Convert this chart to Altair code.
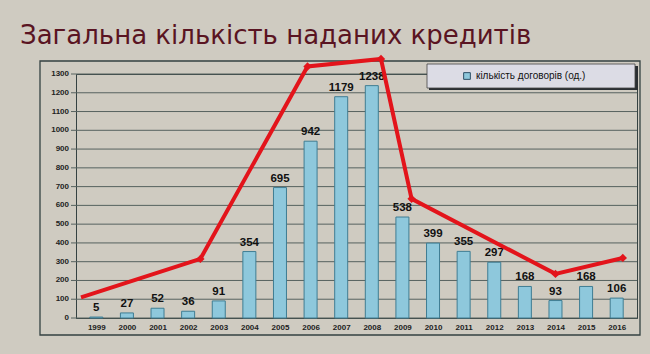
import altair as alt
import pandas as pd

years = list(range(1999, 2017))
contracts = [5, 27, 52, 36, 91, 354, 695, 942, 1179, 1238, 538, 399, 355, 297, 168, 93, 168, 106]
line_x = [1998.5, 2002.4, 2005.9, 2008.3, 2009.3, 2014.0, 2016.2]
line_y = [110, 315, 1340, 1380, 635, 235, 320]
y_ticks = [0, 100, 200, 300, 400, 500, 600, 700, 800, 900, 1000, 1100, 1200, 1300]
title_text = "Загальна кількість наданих кредитів"
legend_label = "кількість договорів (од.)"

BG = "#cfcbc1"
DARK = "#354242"
BAR_FILL = "#8ec8dc"
BAR_STROKE = "#3f7d93"
RED = "#e3141b"

bars_df = pd.DataFrame({"year": years, "value": contracts, "series": legend_label})
line_df = pd.DataFrame({"year": line_x, "value": line_y})
ticks_df = pd.DataFrame({"value": y_ticks})
one = pd.DataFrame({"k": [0]})

xscale = alt.Scale(domain=[1998.5, 2016.5], nice=False, zero=False)
yscale = alt.Scale(domain=[0, 1300], nice=False, zero=True)
x_axis = alt.Axis(values=years, format="d", title=None, grid=False, ticks=False,
                  labelPadding=5, labelFlush=False, labelOverlap=False, tickCount=18)
y_axis = alt.Axis(title=None, grid=False, ticks=False, labels=False, domain=True)
X = alt.X("year:Q", scale=xscale, axis=x_axis)
Y = alt.Y("value:Q", scale=yscale, axis=y_axis)

frame = alt.Chart(one).mark_rect(fill=None, stroke=DARK, strokeWidth=1.3).encode(
    x=alt.value(-36), x2=alt.value(564), y=alt.value(-13), y2=alt.value(261)
)

# horizontal gridlines (extending left as tick marks) and y tick labels from y_ticks
grid = alt.Chart(ticks_df).mark_rule(color="#56625f", strokeWidth=1).encode(
    y=Y, x=alt.value(-5), x2=alt.value(561)
)
ylabels = alt.Chart(ticks_df).mark_text(align="right", baseline="middle", dx=0,
                                        fontSize=8, font="Liberation Sans",
                                        fontWeight="bold", color="#222").encode(
    y=Y, x=alt.value(-7), text=alt.Text("value:Q", format="d")
)

legend_shadow = alt.Chart(one).mark_rect(fill="#2a2f33").encode(
    x=alt.value(353), x2=alt.value(562), y=alt.value(-8), y2=alt.value(16)
)
legend_box = alt.Chart(one).mark_rect(fill="#dcdce5", stroke="#444", strokeWidth=0.8).encode(
    x=alt.value(351), x2=alt.value(559), y=alt.value(-10), y2=alt.value(14)
)

bars = alt.Chart(bars_df).mark_bar(size=13, stroke=BAR_STROKE, strokeWidth=1).encode(
    x=X, y=Y,
    color=alt.Color("series:N", scale=alt.Scale(domain=[legend_label], range=[BAR_FILL]),
                    legend=alt.Legend(title=None, orient="none", legendX=386, legendY=-3,
                                      symbolType="square", symbolSize=45,
                                      symbolStrokeColor="#2d4f66", symbolStrokeWidth=1,
                                      labelFontSize=10, labelFont="Liberation Sans",
                                      labelColor="#111", padding=0, labelOffset=4)),
)

labels = alt.Chart(bars_df).mark_text(dy=-4, baseline="bottom", fontSize=11.5,
                                       fontWeight="bold", font="Liberation Sans",
                                       color="#111").encode(
    x=X, y=Y, text=alt.Text("value:Q"),
)

red_line = alt.Chart(line_df).mark_line(color=RED, strokeWidth=4, clip=False).encode(
    x=X, y=Y,
)
red_pts = alt.Chart(line_df).transform_filter("datum.year > 1998.6").mark_point(
    shape="diamond", filled=True, size=70, color=RED, opacity=1, clip=False).encode(
    x=X, y=Y,
)

chart = alt.layer(frame, grid, ylabels, legend_shadow, legend_box, bars, labels,
                  red_line, red_pts).properties(
    width=561, height=244,
    title=alt.TitleParams(title_text, anchor="start", frame="group", dx=-56, dy=26, offset=28,
                          fontSize=26, font="DejaVu Sans", fontWeight="normal",
                          color="#5a1422"),
    autosize=alt.AutoSizeParams(type="none"),
    padding={"left": 76, "top": 74, "right": 13, "bottom": 36},
    background=BG,
).configure_view(
    stroke=DARK, strokeWidth=1
).configure_axis(
    labelOverlap=False, labelFontSize=8, labelFont="Liberation Sans",
    labelFontWeight="bold", labelColor="#222", tickColor=DARK, domainColor=DARK
)

chart.save("out.html", embed_options={"renderer": "svg", "actions": False})
